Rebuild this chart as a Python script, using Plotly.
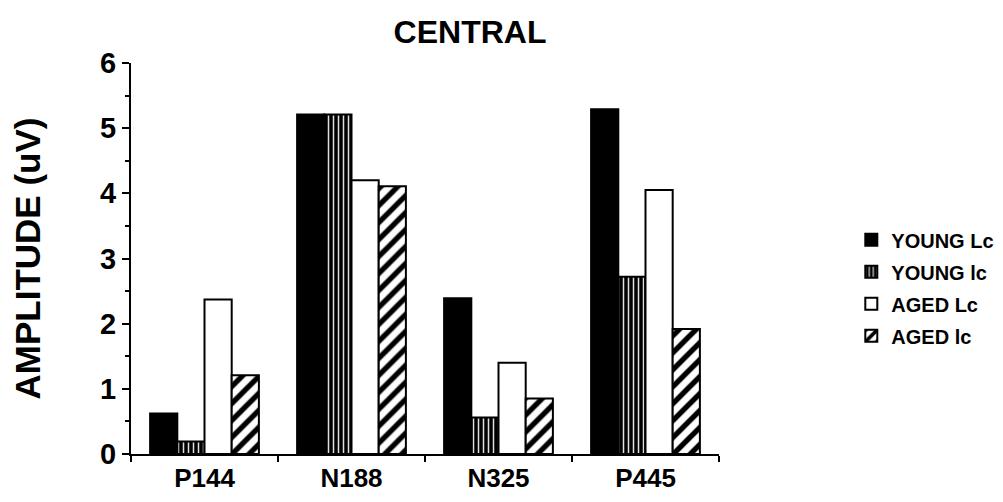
import plotly.graph_objects as go

categories = ["P144", "N188", "N325", "P445"]
young_lc = [0.62, 5.21, 2.39, 5.29]
young_ic = [0.19, 5.21, 0.56, 2.72]
aged_lc = [2.37, 4.20, 1.40, 4.05]
aged_ic = [1.21, 4.11, 0.85, 1.92]
series_names = ["YOUNG Lc", "YOUNG lc", "AGED Lc", "AGED lc"]
y_ticks = [0, 1, 2, 3, 4, 5, 6]

FONT = "Liberation Sans, Arial, sans-serif"

styles = [
    dict(color="black"),
    dict(color="black", pattern=dict(shape="|", fgcolor="#e0e0e0", bgcolor="black",
                                     size=5, solidity=0.3, fgopacity=1)),
    dict(color="white"),
    dict(color="white", pattern=dict(shape="/", fgcolor="black", bgcolor="white",
                                     size=12, solidity=0.45, fgopacity=1)),
]

fig = go.Figure()
for name, vals, st in zip(series_names, [young_lc, young_ic, aged_lc, aged_ic], styles):
    fig.add_trace(go.Bar(
        x=categories, y=vals, name=name, legendgroup=name,
        marker=dict(line=dict(color="black", width=2), **st),
    ))

fig.update_layout(
    width=1003, height=502,
    paper_bgcolor="white", plot_bgcolor="white",
    margin=dict(l=123, r=271, t=55, b=56),
    barmode="group", bargap=0.26, bargroupgap=0,
    title=dict(text="<b>CENTRAL</b>", x=462 / 1003, xanchor="center",
               y=1 - 24 / 502, yanchor="middle",
               font=dict(family=FONT, size=32, color="black")),
    font=dict(family=FONT, color="black"),
    showlegend=True,
    legend=dict(x=1.225, xanchor="left", y=0.425, yanchor="middle",
                font=dict(family=FONT, size=20, color="black", weight="bold"),
                bgcolor="rgba(0,0,0,0)", itemwidth=30, tracegroupgap=3),
    xaxis=dict(
        showline=True, linecolor="black", linewidth=2,
        ticks="outside", tickson="boundaries", ticklen=6, tickwidth=2, tickcolor="black",
        tickfont=dict(family=FONT, size=26, color="black"),
        showgrid=False, zeroline=False,
        tickvals=categories, ticktext=[f"<b>{c}</b>" for c in categories],
    ),
    yaxis=dict(
        range=[0, 6], showline=True, linecolor="black", linewidth=2,
        ticks="outside", ticklen=7, tickwidth=2, tickcolor="black",
        tickvals=y_ticks, ticktext=[f"<b>{v}</b>" for v in y_ticks],
        tickfont=dict(family=FONT, size=29, color="black"),
        showgrid=False, zeroline=False,
        minor=dict(dtick=0.5, ticks="outside", ticklen=4, tickwidth=2, tickcolor="black"),
        title=dict(text="<b>AMPLITUDE (uV)</b>", standoff=55,
                   font=dict(family=FONT, size=35, color="black")),
    ),
)

fig.write_html("out.html")
